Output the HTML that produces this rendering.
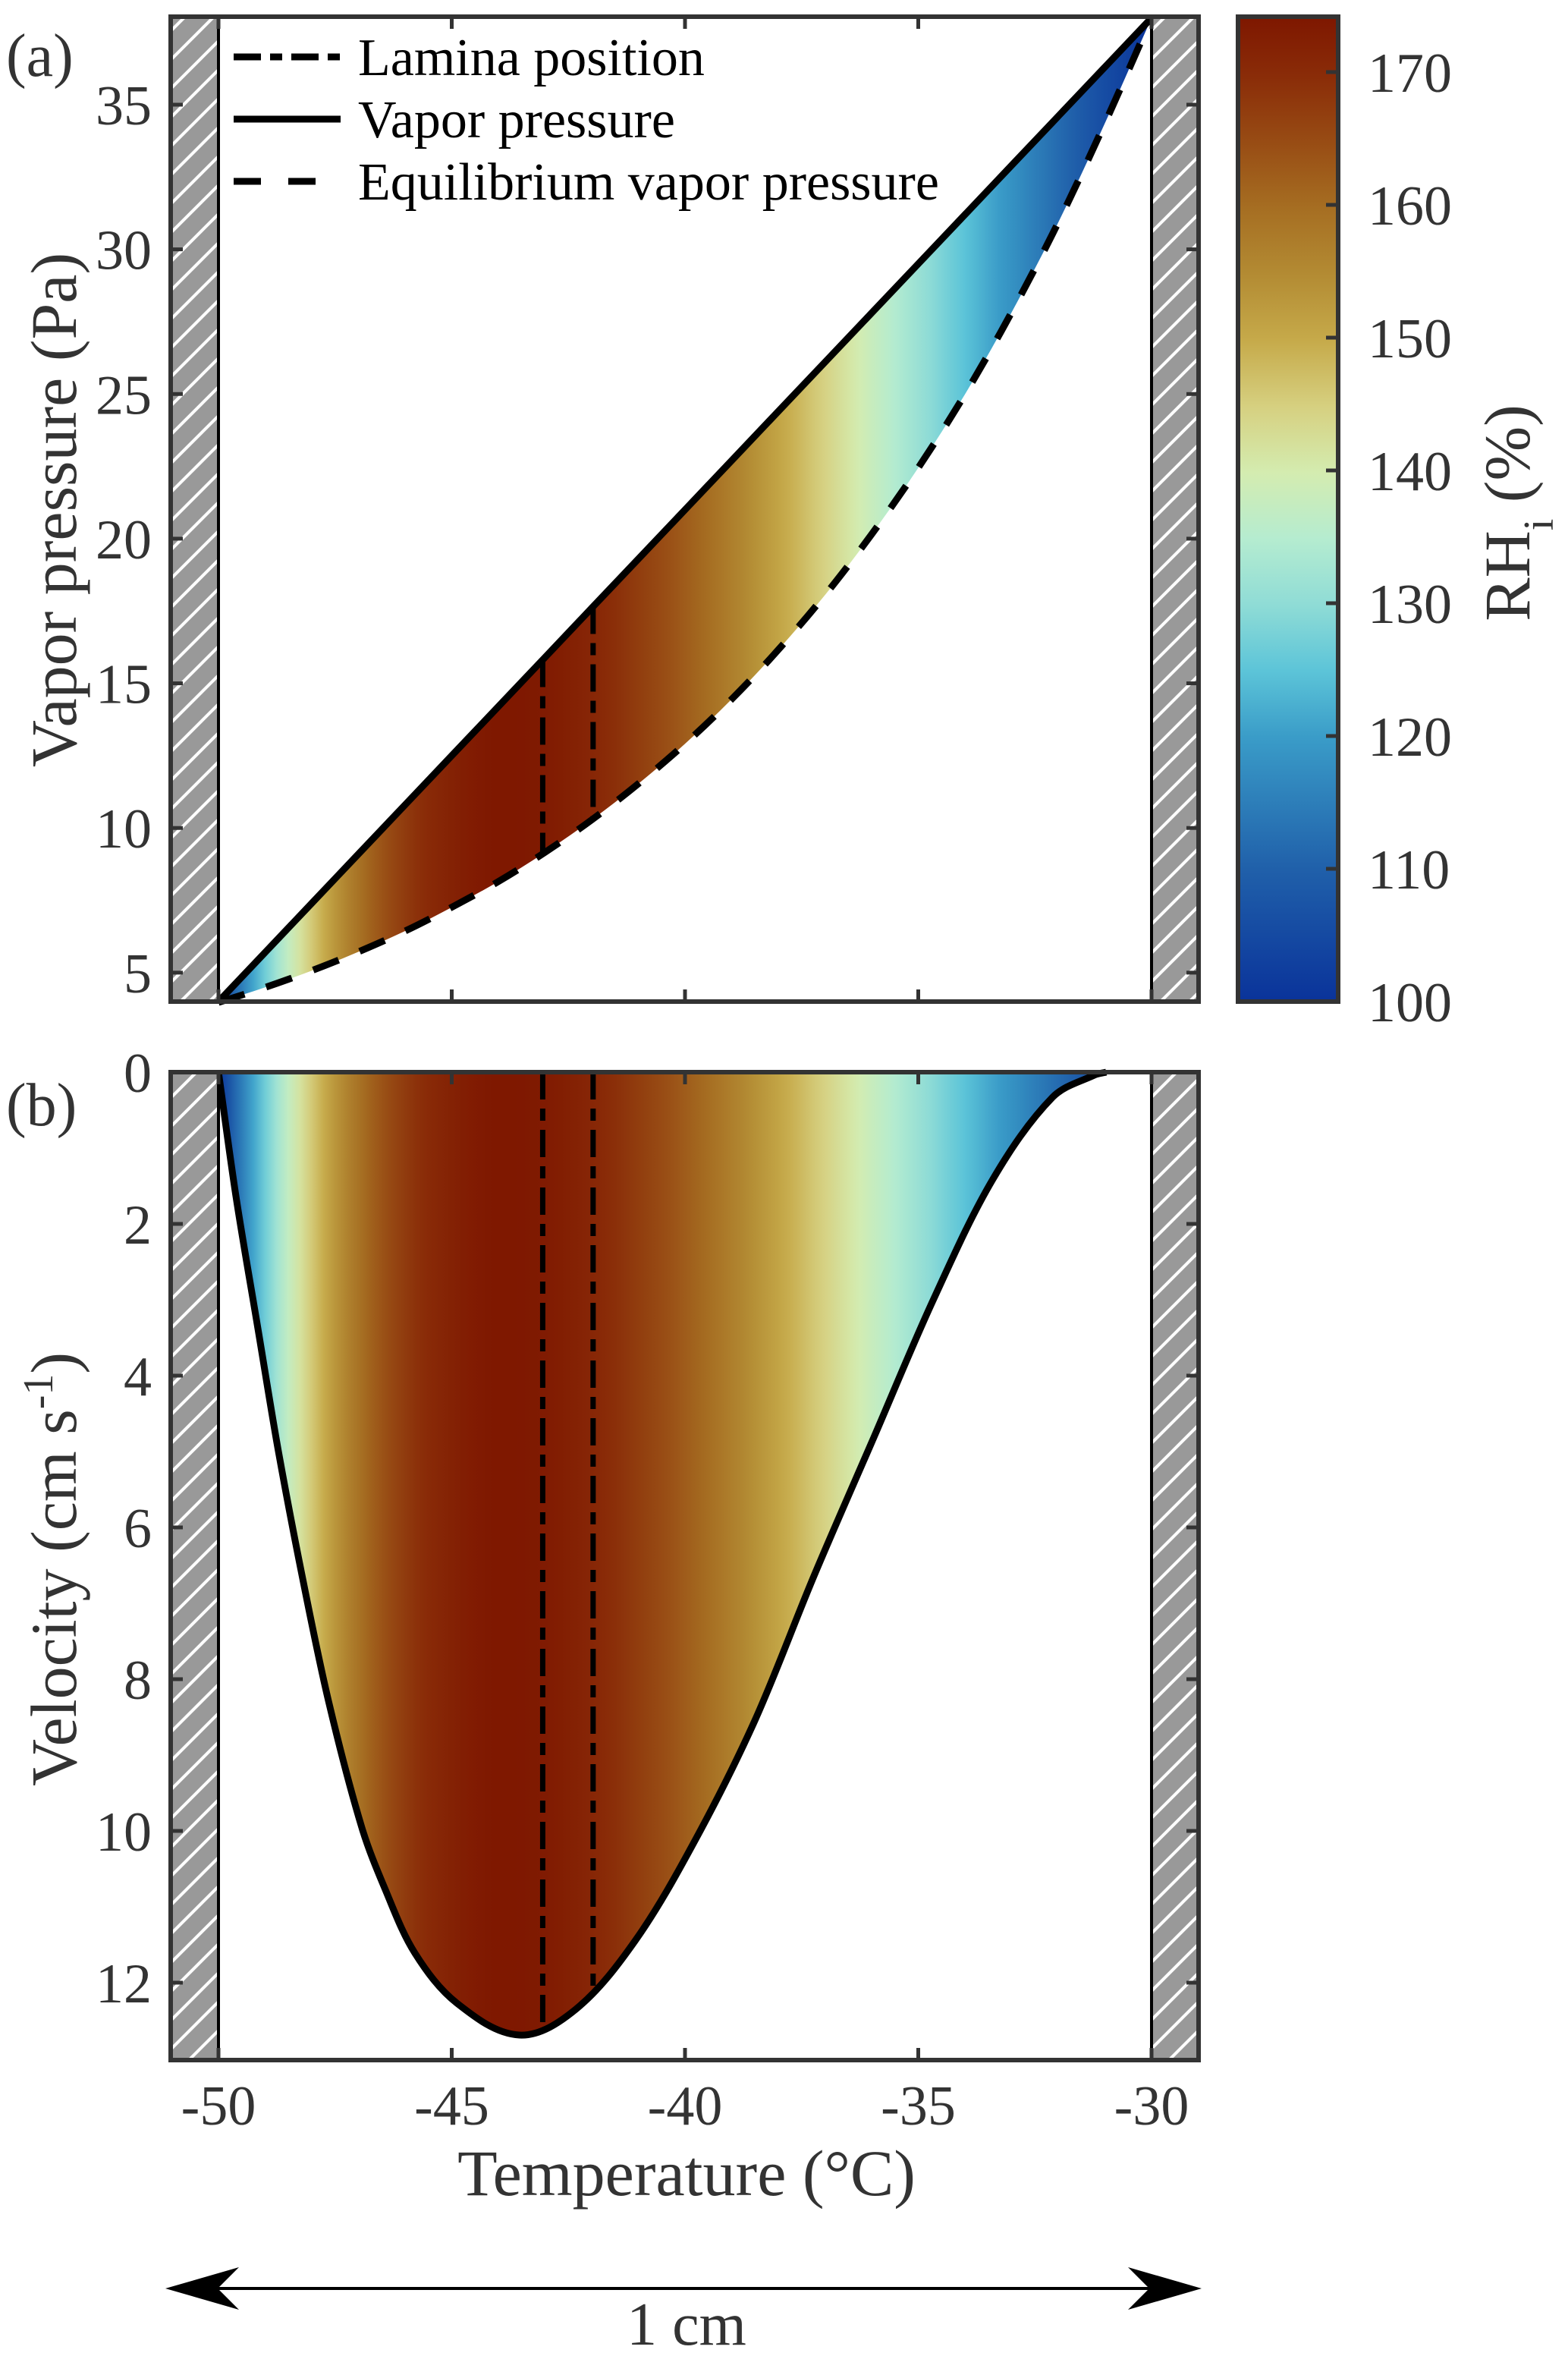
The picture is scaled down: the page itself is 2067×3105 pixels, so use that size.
<!DOCTYPE html>
<html><head><meta charset="utf-8"><title>Vapor pressure and velocity</title>
<style>html,body{margin:0;padding:0;background:#fff}svg{display:block}text{font-family:"Liberation Serif",serif;fill:#333}</style></head>
<body>
<svg id="fig" width="2067" height="3105" viewBox="0 0 2067 3105" xmlns="http://www.w3.org/2000/svg">
<defs>
<pattern id="hatch" patternUnits="userSpaceOnUse" width="38" height="38">
<rect width="38" height="38" fill="#999"/>
<path d="M-4,42 L42,-4 M-10,10 L10,-10 M28,48 L48,28" stroke="#fff" stroke-width="4"/>
</pattern>
<linearGradient id="rhgrad" gradientUnits="userSpaceOnUse" x1="288" y1="0" x2="1518" y2="0"></linearGradient>
<linearGradient id="cbgrad" x1="0" y1="1" x2="0" y2="0"></linearGradient>
</defs>
<g id="plot"></g>
</svg>
<script>
// ---- data ----
const temps = [-50,-49,-48,-47,-46,-45,-44,-43,-42,-41,-40,-39,-38,-37,-36,-35,-34,-33,-32,-31,-30];
const vaporPressure = [4.0,5.7,7.4,9.1,10.8,12.5,14.2,15.9,17.6,19.3,21.0,22.7,24.4,26.1,27.8,29.5,31.2,32.9,34.6,36.3,38.0];
const equilibriumPressure = [3.97,4.49,5.07,5.72,6.44,7.26,8.15,9.16,10.28,11.53,12.91,14.45,16.16,18.05,20.15,22.45,24.99,27.82,30.93,34.36,38.0];
const velTemps = [-50,-49.62,-49.17,-48.72,-48.21,-47.64,-46.93,-46.42,-45.79,-44.89,-43.55,-42.34,-41.06,-39.78,-38.5,-37.23,-35.95,-34.67,-33.4,-32.12,-31.23,-30.97];
const velocity = [0,1.66,3.32,4.98,6.63,8.29,9.95,10.78,11.61,12.27,12.69,12.35,11.44,10.12,8.54,6.63,4.81,2.99,1.41,0.33,0.04,0];
const laminaTemps = [-43.05,-41.97];
const xTicks = [-50,-45,-40,-35,-30];
const yTicksA = [5,10,15,20,25,30,35];
const yTicksB = [0,2,4,6,8,10,12];
const cbTicks = [100,110,120,130,140,150,160,170];
const cmapVals = [100,110,120,125,130,135,140,145,150,155,160,165,170,174.5];
const cmapCols = ['#0a339a','#2060aa','#3a9cc8','#5cc4d8','#8fdcd6','#b5ecd0','#d4ecb0','#d6d080','#c6aa4a','#b38b33','#a66e22','#984c14','#8a2c08','#7e1700'];

// ---- scales ----
const X = t => 288 + 61.5*(t+50);
const YA = p => 1320 - (p-4)*38.13;
const YB = v => 1413 + v*100;
const YC = r => 1320 - (r-100)*17.5;
const NS='http://www.w3.org/2000/svg';
const plot=document.getElementById('plot');
function el(tag,attrs,parent){const e=document.createElementNS(NS,tag);for(const k in attrs)e.setAttribute(k,attrs[k]);(parent||plot).appendChild(e);return e;}
function hex(c){return [1,3,5].map(i=>parseInt(c.substr(i,2),16));}
function cmap(v){
  if(v<=cmapVals[0])return cmapCols[0];
  for(let i=1;i<cmapVals.length;i++){if(v<=cmapVals[i]){const f=(v-cmapVals[i-1])/(cmapVals[i]-cmapVals[i-1]);const a=hex(cmapCols[i-1]),b=hex(cmapCols[i]);return 'rgb('+a.map((x,j)=>Math.round(x+(b[j]-x)*f)).join(',')+')';}}
  return cmapCols[cmapCols.length-1];
}
const rg=document.getElementById('rhgrad');
const fineT=[];for(let t=-50;t<=-30.001;t+=0.25)fineT.push(t);fineT.push(-30);
function interp(xs,ys,x){for(let i=1;i<xs.length;i++){if(x<=xs[i]){const f=(x-xs[i-1])/(xs[i]-xs[i-1]);return ys[i-1]+(ys[i]-ys[i-1])*f;}}return ys[ys.length-1];}
function interpLog(xs,ys,x){for(let i=1;i<xs.length;i++){if(x<=xs[i]){const f=(x-xs[i-1])/(xs[i]-xs[i-1]);return Math.exp(Math.log(ys[i-1])+(Math.log(ys[i])-Math.log(ys[i-1]))*f);}}return ys[ys.length-1];}
fineT.forEach(t=>{const rh=100*interp(temps,vaporPressure,t)/interpLog(temps,equilibriumPressure,t);el('stop',{offset:((t+50)/20).toFixed(4),'stop-color':cmap(rh)},rg);});
const cg=document.getElementById('cbgrad');
cmapVals.forEach((v,i)=>el('stop',{offset:((v-100)/74.5).toFixed(4),'stop-color':cmapCols[i]},cg));

// chord-length-scaled cardinal spline (avoids kinks with uneven spacing)
function smooth(pts){
  const n=pts.length;const tang=[];
  for(let i=0;i<n;i++){const a=pts[Math.max(0,i-1)],b=pts[Math.min(n-1,i+1)];let dx=b[0]-a[0],dy=b[1]-a[1];const L=Math.hypot(dx,dy)||1;tang.push([dx/L,dy/L]);}
  let d='M'+pts[0][0].toFixed(1)+','+pts[0][1].toFixed(1);
  for(let i=0;i<n-1;i++){const p1=pts[i],p2=pts[i+1];const s=Math.hypot(p2[0]-p1[0],p2[1]-p1[1])/3;
    const c1=[p1[0]+tang[i][0]*s,p1[1]+tang[i][1]*s],c2=[p2[0]-tang[i+1][0]*s,p2[1]-tang[i+1][1]*s];
    d+=' C'+c1.map(v=>v.toFixed(1)).join(',')+' '+c2.map(v=>v.toFixed(1)).join(',')+' '+p2.map(v=>v.toFixed(1)).join(',');}
  return d;}

// ===== Panel A =====
const gA=el('g',{});


const vpPts=temps.map((t,i)=>[X(t),YA(vaporPressure[i])]);
const eqPts=temps.map((t,i)=>[X(t),YA(equilibriumPressure[i])]);
const eqPath=smooth(eqPts);
const fillA=el('path',{d:smooth(vpPts)+' L'+eqPts[eqPts.length-1].join(',')+' '+smooth(eqPts.slice().reverse()).replace('M','L')+' Z',fill:'url(#rhgrad)'},gA);


laminaTemps.forEach(t=>{const ln=el('line',{x1:X(t),x2:X(t),y1:YA(interp(temps,vaporPressure,t)),y2:YA(interpLog(temps,equilibriumPressure,t)),stroke:'#000','stroke-width':7,'stroke-dasharray':'36,12,16,12'},gA);

});
const vpLine=el('path',{d:smooth(vpPts),fill:'none',stroke:'#000','stroke-width':9},gA);


const eqLine=el('path',{d:eqPath,fill:'none',stroke:'#000','stroke-width':9,'stroke-dasharray':'36,30'},gA);



// ===== Panel B =====
const gB=el('g',{});


const vPts=velTemps.map((t,i)=>[X(t),YB(velocity[i])]);
const vPath=smooth(vPts);
const fillB=el('path',{d:vPath+' Z',fill:'url(#rhgrad)'},gB);


laminaTemps.forEach(t=>{const ln=el('line',{x1:X(t),x2:X(t),y1:YB(0),y2:YB(interp(velTemps,velocity,t)),stroke:'#000','stroke-width':7,'stroke-dasharray':'36,12,16,12'},gB);

});
const vLine=el('path',{d:vPath,fill:'none',stroke:'#000','stroke-width':9},gB);



function panelFrame(top,bottom,g,yTicks,Yf,name){
  [[225,X(-50)],[X(-30),1580]].forEach((w,i)=>{const r=el('rect',{x:w[0],y:top,width:w[1]-w[0],height:bottom-top,fill:'url(#hatch)'},g);
  
  });
  [X(-50),X(-30)].forEach(x=>el('line',{x1:x,x2:x,y1:top,y2:bottom,stroke:'#000','stroke-width':4},g));
  xTicks.forEach(t=>{el('line',{x1:X(t),x2:X(t),y1:bottom,y2:bottom-16,stroke:'#333','stroke-width':5},g);el('line',{x1:X(t),x2:X(t),y1:top,y2:top+16,stroke:'#333','stroke-width':5},g);});
  yTicks.forEach(v=>{const y=Yf(v);el('line',{x1:225,x2:241,y1:y,y2:y,stroke:'#333','stroke-width':5},g);el('line',{x1:1580,x2:1564,y1:y,y2:y,stroke:'#333','stroke-width':5},g);
    const tx=el('text',{x:200,y:y+26,'text-anchor':'end','font-size':74},g);tx.textContent=v;
    
    });
  const fr=el('rect',{x:225,y:top,width:1355,height:bottom-top,fill:'none',stroke:'#333','stroke-width':6},g);
  
  
}
panelFrame(22,1320,gA,yTicksA,YA,'y-axis-a');
panelFrame(1413,2715,gB,yTicksB,YB,'y-axis-b');
xTicks.forEach(t=>{const tx=el('text',{x:X(t),y:2800,'text-anchor':'middle','font-size':74});tx.textContent=t;

});

const cb=el('rect',{x:1632,y:22,width:132,height:1298,fill:'url(#cbgrad)',stroke:'#333','stroke-width':6});


cbTicks.forEach(v=>{const y=YC(v);el('line',{x1:1764,x2:1748,y1:y,y2:y,stroke:'#333','stroke-width':5});
const tx=el('text',{x:1803,y:y+26,'font-size':74});tx.textContent=v;

});
</script>
<script>
(function(){
const NS='http://www.w3.org/2000/svg';const svg=document.getElementById('fig');
function t(x,y,s,fs,name,extra){const e=document.createElementNS(NS,'text');e.setAttribute('x',x);e.setAttribute('y',y);e.setAttribute('font-size',fs);if(extra)for(const k in extra)e.setAttribute(k,extra[k]);e.innerHTML=s;


svg.appendChild(e);return e;}
t(8,100,'(a)',80,'panel-a-label');
t(8,1483,'(b)',80,'panel-b-label');
t(0,0,'Vapor pressure (Pa)',86,'y-axis-title-a',{'text-anchor':'middle',transform:'translate(100,672) rotate(-90)'});
t(0,0,'Velocity (cm s<tspan baseline-shift="super" font-size="56">-1</tspan>)',86,'y-axis-title-b',{'text-anchor':'middle',transform:'translate(100,2068) rotate(-90)'});
t(905,2893,'Temperature (°C)',86,'x-axis-title',{'text-anchor':'middle'});
t(0,0,'RH<tspan baseline-shift="sub" font-size="56">i</tspan> (%)',86,'colorbar-title',{'text-anchor':'middle',transform:'translate(2016,676) rotate(-90)'});
t(905,3090,'1 cm',80,'scale-label',{'text-anchor':'middle'});
const items=[['Lamina position','36,12,16,12'],['Vapor pressure',''],['Equilibrium vapor pressure','36,36']];
items.forEach((it,i)=>{const y=75+i*82;const l=document.createElementNS(NS,'line');
l.setAttribute('x1',308);l.setAttribute('x2',449);l.setAttribute('y1',y);l.setAttribute('y2',y);l.setAttribute('stroke','#000');l.setAttribute('stroke-width',9);if(it[1])l.setAttribute('stroke-dasharray',it[1]);


svg.appendChild(l);
const tx=t(472,y+24,it[0],70,'legend-entry');tx.setAttribute('style','fill:#000');});
const a=document.createElementNS(NS,'path');
a.setAttribute('d','M240,3016 L1562,3016');a.setAttribute('stroke','#000');a.setAttribute('stroke-width',4);


svg.appendChild(a);
[['M218,3016 L315,2988 L287,3016 L315,3044 Z','scale-arrow-left'],['M1584,3016 L1487,2988 L1515,3016 L1487,3044 Z','scale-arrow-right']].forEach(h=>{const p=document.createElementNS(NS,'path');p.setAttribute('d',h[0]);p.setAttribute('fill','#000');


svg.appendChild(p);});
})();
</script>
</body></html>
